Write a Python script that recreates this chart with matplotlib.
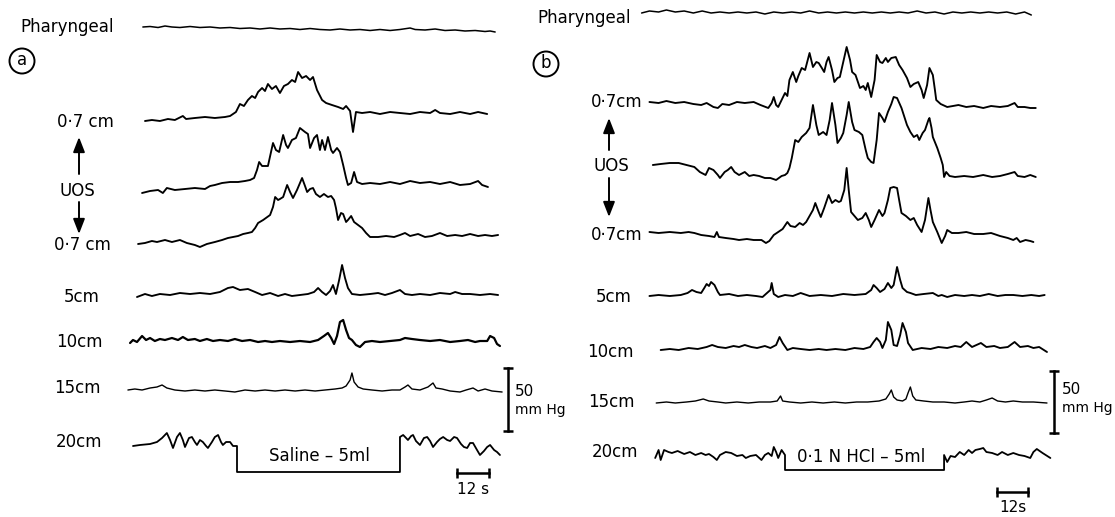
import numpy as np
import matplotlib
matplotlib.use("Agg")
import matplotlib.pyplot as plt
from matplotlib.patches import Circle

# ---------------- data: time (s, from start of infusion), pressure (mmHg above resting level)
# Panel (a) – saline
a_phar_t = [-35.3,-32.6,-29.6,-27.0,-24.4,-21.4,-17.6,-13.9,-10.1,-6.4,-2.6,1.1,4.9,8.6,12.4,16.1,19.9,23.6,27.4,31.1,
            34.9,38.6,42.4,46.1,49.9,53.6,57.4,61.1,64.9,66.8,70.5,74.3,78.0,81.8,85.5,89.3,93.0,94.9,96.8]
a_phar_p = [0,0.4,-0.4,0.8,0,-0.4,0.4,-0.4,0,-0.8,-0.4,-1.2,-0.8,-1.6,-0.8,-1.6,-1.2,-2.0,-1.2,-2.0,
            -2.4,-1.6,-2.4,-2.0,-2.8,-2.0,-2.8,-2.0,-0.8,-2.0,-2.4,-1.6,-2.8,-2.4,-3.2,-2.8,-3.6,-3.2,-4.0]

a_07up_t = [-34.5,-31.9,-28.9,-25.9,-23.3,-20.3,-19.1,-15.8,-12.0,-8.3,-4.5,-2.6,-0.4,1.1,2.6,4.1,5.6,6.8,7.9,9.4,
            10.5,11.6,13.1,14.6,16.1,17.6,19.1,20.6,21.8,22.9,24.4,25.9,27.4,28.5,30.0,31.9,33.4,35.6,37.9,39.8,
            40.9,42.4,43.5,44.6,46.9,49.9,53.6,57.4,61.1,64.9,68.6,72.4,74.3,76.1,79.9,83.6,87.4,90.4,93.8]
a_07up_p = [-0.8,0,-0.8,0.8,0,3.2,0.8,1.6,2.4,1.6,2.4,3.2,6.4,12.8,11.2,16,19.2,17.6,22.4,25.6,
            23.2,28.8,24.8,27.2,21.6,27.2,28.8,32,30.4,38.4,33.6,35.2,32,34.4,24,16,13.6,12,10.4,8.8,
            11.2,7.2,-9.6,6.4,5.6,6.4,4.8,6.4,5.6,4.8,6.4,5.6,8,5.6,4.8,6.4,4.8,6.4,4.8]

a_uos_t = [-35.6,-32.6,-29.6,-27.8,-26.3,-23.3,-19.5,-15.8,-12.0,-10.1,-8.3,-5.6,-2.6,0.4,3.0,4.9,6.4,7.5,8.3,9.4,
           11.6,13.5,14.6,15.8,17.3,18.4,19.1,20.6,22.1,23.6,25.5,26.6,27.4,28.9,30.0,31.1,31.9,33.0,34.1,35.3,
           36.0,37.5,38.6,39.8,40.9,41.6,42.8,43.9,45.0,46.9,49.9,53.6,57.4,61.1,64.9,68.6,72.4,76.1,79.9,83.6,
           87.4,90.4,91.9,94.1]
a_uos_p = [-0.8,0.8,1.6,-0.8,3.2,1.6,2.4,3.2,2.4,4.8,5.6,7.2,8,8,8.8,9.6,11.2,17.6,24,20.8,
           20.8,39.2,33.6,32,45.6,37.6,35.2,41.6,43.2,51.2,48,46.4,35.2,43.2,45.6,33.6,41.6,33.6,44,33.6,
           31.2,35.2,32,21.6,11.2,5.6,7.2,16,8,6.4,7.2,6.4,8,6.4,8.8,7.2,8,6.4,8,5.6,
           6.4,8.8,5.6,4]

a_07lo_t = [-37.1,-34.5,-31.9,-30.0,-27.0,-24.4,-21.4,-18.8,-15.8,-13.9,-11.3,-8.3,-5.6,-3.4,-1.5,0.4,2.3,4.1,5.6,6.8,
            7.9,9.8,12.4,13.5,14.3,15.4,16.1,17.3,18.8,19.9,21.0,22.5,24.4,25.5,26.3,27.4,28.5,29.6,31.1,32.6,
            34.1,35.3,36.4,37.1,37.9,39.0,39.8,40.9,41.6,42.8,43.9,45.4,46.9,48.4,49.9,52.9,55.9,58.9,61.1,63.0,
            64.9,67.9,70.5,73.1,76.1,78.8,81.8,84.4,87.4,90.4,93.0,95.6,97.9]
a_07lo_p = [0,0.8,2.4,1.6,3.2,1.6,3.2,0.8,-0.8,-2.4,0,1.6,3.2,4.8,5.6,6.4,8,8.8,9.6,12.8,
            16.8,19.2,23.2,29.6,37.6,35.2,36,37.6,47.2,41.6,36.8,43.2,52.8,46.4,41.6,44,44.8,40,37.6,40,
            37.6,38.4,35.2,28.8,19.2,24.8,24,17.6,19.2,22.4,17.6,15.2,12.8,8.8,5.6,5.6,6.4,5.6,7.2,8.8,
            6.4,8,5.6,6.4,8.8,6.4,7.2,6.4,8,6.4,7.2,6.4,7.2]

a_5cm_t = [-37.5,-34.5,-31.9,-28.9,-25.1,-21.4,-17.6,-13.9,-10.1,-6.4,-3.4,-1.5,1.1,4.1,6.8,9.4,12.4,15.4,18.0,20.6,
           23.6,26.6,28.9,30.4,31.9,33.4,34.9,36.0,37.1,38.3,39.4,40.5,41.6,43.1,46.1,49.9,52.9,55.5,58.1,61.1,
           63.0,65.6,68.6,72.4,76.1,79.9,81.8,84.4,87.4,91.1,94.9,97.9]
a_5cm_p = [-0.8,1.6,0,1.6,0.8,2.4,1.6,2.4,1.6,3.2,6.4,7.2,4.8,5.6,3.2,0.8,2.4,0,1.6,0,
           0.8,1.6,3.2,6.4,3.2,0.8,4,8.8,1.6,12.8,24.8,14.4,6.4,1.6,0.8,1.6,2.4,0.8,2.4,4.8,
           1.6,0.8,1.6,0.8,2.4,1.6,3.2,1.6,1.6,0.8,1.6,0.8]

a_10cm_t = [-40.1,-39.0,-37.5,-35.6,-34.1,-32.6,-30.8,-28.9,-27.0,-24.4,-22.1,-20.3,-18.4,-15.8,-13.9,-11.3,-9.0,-6.4,-3.4,-0.8,
            1.9,4.9,7.9,10.5,13.1,16.1,19.9,23.6,27.4,30.4,32.6,34.1,35.3,36.4,37.5,38.6,39.8,40.9,42.0,43.1,
            44.6,46.1,48.0,50.6,53.6,57.4,61.1,63.0,65.6,68.6,72.4,76.1,79.9,83.6,86.6,89.3,91.1,93.8,94.9,96.4,
            97.5,98.6]
a_10cm_p = [-0.8,1.6,0,4.8,1.6,3.2,0.8,2.4,1.6,3.2,1.6,4,1.6,2.4,0.8,2.4,0.8,1.6,0.8,2.4,
            0.8,1.6,0,0.8,0,0.8,0,0.8,0,1.6,4.8,7.2,3.2,-1.6,4.8,16,17.6,9.6,3.2,1.6,
            -2.4,-4,0,0.8,0,0.8,1.6,3.2,2.4,1.6,0.8,1.6,0,0.8,1.6,0,0.8,0.8,4.8,3.2,
            -1.6,-3.2]

a_15cm_t = [-40.9,-38.3,-35.6,-32.6,-30.0,-28.1,-26.3,-23.3,-19.5,-15.8,-12.0,-8.3,-4.5,-0.8,3.0,6.8,10.5,14.3,18.0,21.8,
            25.5,29.3,33.0,36.8,39.4,40.9,42.4,43.1,43.9,45.4,47.3,50.6,54.4,58.1,61.1,63.0,64.1,65.6,68.6,71.6,
            73.5,74.6,76.9,79.9,83.6,85.9,88.5,90.4,93.0,95.6,99.4]
a_15cm_p = [0,0.8,0,1.6,2.4,4,1.6,0,-0.8,0,-0.8,0,-0.8,-1.6,0,-0.8,0,-0.8,0,-0.8,
            0,-0.8,0,0.8,1.6,3.2,8,13.6,6.4,2.4,0.8,0,-0.8,0,0,2.4,4,0.8,0,2.4,
            5.6,1.6,0.8,-0.8,-1.6,0,1.6,-0.8,0.8,-0.8,-1.6]

# 20 cm channel also carries the infusion marker (pen deflection while infusing)
a_20cm_t = [-39.0,-36.4,-32.6,-30.0,-28.1,-26.3,-25.1,-24.0,-22.5,-21.4,-20.3,-19.5,-18.0,-16.9,-15.8,-15.0,-13.9,-12.8,-11.6,-10.9,
            -9.4,-8.3,-7.1,-6.0,-5.3,-4.1,-2.6,-1.5,0.0,0.0,61.1,61.1,62.3,63.4,64.1,65.3,66.0,67.1,68.6,70.1,
            71.3,72.4,73.5,75.0,76.1,77.3,78.8,79.9,81.4,82.5,84.0,85.1,86.3,87.4,88.5,90.0,91.1,92.6,93.8,94.9,
            96.4,97.5,98.6]
a_20cm_p = [0,0.8,1.6,3.2,6.4,10.4,4.8,-1.6,7.2,10.4,4.8,-0.8,6.4,7.2,3.2,0.8,4.8,3.2,0,-1.6,
            3.2,7.2,8.8,3.2,0.8,3.2,3.2,0,0,-20.8,-20.8,7.2,8.8,6.4,4.8,8,8.8,4,0.8,6.4,
            7.2,4,-0.8,3.2,5.6,7.2,4.8,4,7.2,6.4,1.6,-0.8,-1.6,2.4,2.4,-3.2,-7.2,-4,-0.8,0.8,
            -3.2,-4.8,-7.2]

# Panel (b) – 0.1 N HCl
b_phar_t = [-54.9,-51.9,-48.4,-45.4,-42.0,-38.6,-35.1,-31.7,-28.3,-24.9,-21.4,-18.0,-14.6,-11.1,-7.7,-4.3,-0.9,2.6,6.0,9.4,
            12.9,16.3,19.7,23.1,26.6,30.0,33.4,36.9,40.3,43.7,47.1,50.6,54.0,57.4,60.9,64.3,67.7,71.1,74.6,78.0,
            81.4,84.9,88.3,91.7,94.3]
b_phar_p = [-0.8,0.8,0,1.6,0,0.8,-0.8,0.8,-0.8,0,-0.8,0,-0.8,0,-1.6,0,-0.8,0,-0.8,0.8,
            -0.8,0,-0.8,0,-0.8,0,-0.8,0,-0.8,0,-0.8,0.8,-0.8,0,-1.6,0,-0.8,0,-0.8,0,
            -0.8,0,-1.6,0,-2.4]

b_07up_t = [-51.9,-48.4,-45.4,-42.0,-38.6,-35.1,-32.1,-30.0,-27.4,-25.7,-24.0,-21.4,-18.4,-15.4,-12.0,-9.4,-6.4,-5.1,-4.3,-3.4,
            -2.6,-1.3,0.0,0.9,1.7,3.0,4.3,5.1,6.4,7.7,9.4,10.7,12.0,12.9,14.1,15.0,15.9,16.7,18.0,18.9,
            20.1,21.0,22.3,23.6,24.9,25.7,27.0,28.7,30.0,30.9,31.7,33.0,34.3,35.1,36.4,37.3,38.6,39.4,40.7,42.4,
            43.7,45.0,46.7,48.0,49.3,51.0,52.3,53.1,54.4,55.3,56.6,57.4,57.9,59.6,62.1,64.3,66.4,69.4,72.4,75.9,
            78.9,82.3,85.3,87.9,89.1,91.7,93.9,96.0]
b_07up_p = [0,-0.8,0.8,-0.8,0,-1.6,-2.4,-0.8,-4,-4.8,-1.6,-2.4,0,-0.8,0,-2.4,-4.8,-0.8,4,-2.4,
            -4,1.6,7.2,4.8,17.6,24,16,20.8,27.2,25.6,39.2,28,32,31.2,27.2,24,32,36,25.6,16,
            19.2,20,32,44,33.6,24,21.6,11.2,12.8,9.6,15.2,4,17.6,37.6,32,31.2,35.2,32,35.2,36,
            29.6,25.6,19.2,12,14.4,16,9.6,3.2,13.6,27.2,21.6,9.6,1.6,-1.6,-4,-3.2,-2.4,-4,-3.2,-4.8,
            -3.2,-4,-3.2,-0.8,-4,-4,-4.8,-4.8]

b_uos_t = [-50.6,-47.6,-44.1,-40.7,-37.7,-34.7,-32.6,-30.4,-29.1,-27.4,-25.7,-24.9,-23.1,-21.9,-20.6,-19.3,-17.6,-15.4,-13.7,-12.0,
           -9.9,-7.7,-5.6,-3.4,-1.3,0.0,0.9,1.7,2.6,3.9,5.1,6.4,8.1,9.4,10.7,12.0,12.9,14.6,15.9,17.1,
           18.0,19.3,20.1,21.4,22.3,23.6,24.4,25.7,26.6,28.3,29.6,30.9,31.7,33.0,33.9,35.1,36.0,37.3,38.1,39.4,
           40.7,41.6,42.9,44.6,46.7,48.0,49.3,50.6,51.4,52.7,53.6,54.9,55.3,56.1,56.6,58.3,59.6,60.4,60.9,61.7,
           63.0,65.1,68.6,72.0,75.9,79.3,82.3,85.3,87.9,89.1,91.7,93.9,96.0]
b_uos_p = [0,0.8,1.6,1.6,0,-1.6,-5.6,-8,-2.4,-4,-8,-10.4,-5.6,-4,-1.6,-5.6,-8,-5.6,-8.8,-8,
           -8.8,-10.4,-10.4,-12,-8.8,-8,-6.4,-2.4,5.6,20,18.4,22.4,25.6,29.6,48,32,24,26.4,24,36,
           49.6,32,17.6,21.6,25.6,40,50.4,34.4,28,26.4,24,12,5.6,2.4,1.6,20,41.6,37.6,34.4,42.4,
           48.8,54.4,53.6,45.6,32,26.4,22.4,24,20,25.6,28,36,37.6,29.6,22.4,13.6,5.6,0,-9.6,-5.6,
           -8.8,-9.6,-8.8,-9.6,-8,-9.6,-8.8,-7.2,-5.6,-8.8,-9.6,-8,-9.6]

b_07lo_t = [-51.9,-48.4,-44.1,-39.9,-36.9,-34.7,-32.1,-29.1,-27.0,-26.1,-25.3,-22.7,-19.7,-17.6,-14.6,-12.0,-9.0,-7.3,-6.0,-4.3,
            -2.6,-0.9,0.9,2.1,3.9,5.6,6.9,8.1,9.4,10.7,11.6,12.9,13.7,15.0,16.7,18.0,19.3,20.6,21.4,22.7,
            23.6,24.4,25.3,26.6,27.9,29.6,30.9,32.1,33.0,34.3,36.0,37.3,38.1,39.4,40.3,41.6,42.9,43.7,44.6,46.3,
            48.0,49.3,50.6,52.3,53.6,54.9,55.7,56.6,58.3,60.0,61.3,62.1,63.9,66.4,69.4,72.4,75.9,78.9,82.3,85.3,
            87.4,88.7,90.0,92.1,93.9,95.1]
b_07lo_p = [0,-0.8,0,-0.8,0,-0.8,-2.4,-3.2,-4,0,-4,-4.8,-5.6,-6.4,-5.6,-6.4,-6.4,-8.8,-7.2,-2.4,
            0,2.4,8,4.8,4,7.2,5.6,8,12.8,17.6,23.2,16,12,19.2,29.6,23.2,25.6,24,24.8,33.6,
            51.2,33.6,16,12.8,9.6,11.2,15.2,9.6,4,9.6,17.6,12.8,15.2,25.6,35.2,36,35.2,25.6,15.2,12.8,
            9.6,11.2,5.6,0,9.6,27.2,17.6,8,0,-8.8,-3.2,1.6,-0.8,-0.8,0,-1.6,-1.6,-0.8,-3.2,-4.8,
            -6.4,-4.8,-8,-6.4,-7.2,-8]

b_5cm_t = [-51.9,-48.4,-44.1,-39.9,-37.3,-35.6,-33.9,-32.1,-30.9,-30.0,-29.1,-28.3,-27.0,-25.7,-24.9,-21.4,-18.0,-14.6,-11.1,-8.6,
           -6.9,-5.6,-5.1,-4.3,-2.6,0.0,3.0,6.0,9.4,13.7,18.0,22.3,26.6,30.9,33.0,33.9,35.1,36.4,38.1,39.4,
           40.7,41.6,42.9,44.1,45.0,46.7,48.0,50.1,53.1,56.6,58.7,60.0,62.1,65.1,68.6,71.6,74.6,78.0,81.4,84.4,
           87.4,90.9,94.3,97.3,99.4]
b_5cm_p = [0,0.8,0,0.8,2.4,4.8,3.2,2.4,6.4,9.6,8,11.2,8.8,3.2,0.8,1.6,0,0.8,0,-0.8,
           2.4,4.8,10.4,1.6,-0.8,0.8,0,2.4,0,0.8,0,1.6,0.8,1.6,4.8,8.8,6.4,3.2,5.6,10.4,
           6.4,8.8,23.2,12.8,6.4,3.2,2.4,0.8,1.6,2.4,0,0.8,-0.8,0.8,0,0.8,0,1.6,0,0.8,
           0.8,0,0.8,0,0.8]

b_10cm_t = [-47.6,-44.1,-40.7,-36.9,-33.4,-30.0,-27.9,-25.7,-22.7,-19.7,-17.6,-15.4,-12.9,-10.7,-7.7,-5.6,-3.4,-2.1,-0.9,0.9,
            3.0,6.0,9.4,12.9,15.9,19.3,23.1,26.6,30.0,32.6,33.9,35.1,36.4,37.3,38.6,39.4,40.7,41.6,42.9,44.1,
            45.0,46.3,47.1,48.9,52.3,55.7,58.7,62.1,65.1,67.3,69.4,71.6,75.0,77.1,80.1,82.3,85.3,87.9,90.0,93.0,
            95.1,97.3,100.3]
b_10cm_p = [0,0.8,0,1.6,0.8,2.4,4,2.4,1.6,3.2,2.4,4,2.4,1.6,3.2,1.6,4,10.4,5.6,0,
            1.6,0.8,0,0.8,0,0.8,0,1.6,0.8,2.4,6.4,9.6,6.4,1.6,8,22.4,16,4,3.2,12,
            21.6,14.4,5.6,0,1.6,0.8,2.4,1.6,3.2,2.4,6.4,2.4,5.6,2.4,3.2,1.6,2.4,6.4,2.4,3.2,
            1.6,2.4,-1.6]

b_15cm_t = [-49.3,-45.4,-42.0,-37.7,-34.3,-31.3,-29.1,-25.7,-22.7,-18.4,-14.1,-9.9,-5.6,-3.0,-1.7,-0.9,1.7,6.0,10.3,14.6,
            18.9,23.1,27.4,31.7,36.0,38.6,39.9,40.7,41.6,42.9,45.0,46.3,47.1,48.0,48.9,50.1,53.1,56.6,60.9,65.1,
            68.6,71.6,74.6,77.1,79.3,81.4,84.4,87.4,90.9,95.1,100.3]
b_15cm_p = [0,0.8,0,0.8,1.6,3.2,1.6,0.8,0,0.8,0,0.8,0.8,1.6,5.6,1.6,0.8,0,0.8,0,
            0.8,0,0.8,0.8,1.6,3.2,7.2,10.4,4.8,2.4,1.6,3.2,8,12.8,5.6,2.4,1.6,0.8,0.8,0,
            0.8,1.6,0.8,2.4,4,1.6,0.8,1.6,0.8,0.8,0]

b_20cm_t = [-49.7,-48.4,-47.6,-46.3,-44.6,-43.3,-41.1,-38.6,-36.4,-34.3,-32.1,-30.4,-29.1,-27.4,-26.1,-24.9,-22.7,-20.6,-18.4,-16.3,
            -15.0,-13.3,-11.1,-9.0,-7.7,-6.4,-5.1,-4.3,-3.4,-2.6,-1.3,0.0,0.0,60.9,60.9,62.1,63.4,65.1,66.9,68.6,
            70.3,71.6,72.9,74.6,75.9,77.1,79.3,81.4,83.1,85.3,87.4,89.6,91.7,93.9,95.1,96.4,98.6,101.6]
b_20cm_p = [-2.4,4,-4,4,2.4,1.6,3.2,0.8,2.4,0,1.6,0,0.8,-1.6,-4,0,2.4,1.6,-0.8,0,
            -2.4,-0.8,0,-4,0,1.6,-0.8,6.4,2.4,-2.4,4,0,-12,-12,0,-5.6,-0.8,-1.6,2.4,0,
            4,1.6,4,4.8,5.6,2.4,1.6,0,2.4,0,1.6,0,-0.8,-2.4,2.4,4.8,1.6,-2.4]

channel_labels_a = ["Pharyngeal", "0·7 cm", "UOS", "0·7 cm", "5cm", "10cm", "15cm", "20cm"]
channel_labels_b = ["Pharyngeal", "0·7cm", "UOS", "0·7cm", "5cm", "10cm", "15cm", "20cm"]
infusion_a = "Saline – 5ml"
infusion_b = "0·1 N HCl – 5ml"
scale_mmhg = 50
scale_s = 12

# ---------------- layout (pixels of the 1115 x 517 canvas)
W, H = 1115, 517
PXM = 1.25                        # px per mmHg
fig = plt.figure(figsize=(W / 100, H / 100), dpi=100)
fig.patch.set_facecolor("white")

FONT = "DejaVu Sans"
plt.rcParams["font.family"] = [FONT]


def panel_axes(x0, pxs):
    ax = fig.add_axes([0, 0, 1, 1])
    ax.set_xlim(-x0 / pxs, (W - x0) / pxs)
    ax.set_ylim(0, H / PXM)
    ax.axis("off")
    ax.patch.set_alpha(0)
    return ax


def ydat(px):
    return (H - px) / PXM


def trace(ax, t, p, base_px, lw=1.35):
    ax.plot(t, np.asarray(p, float) + ydat(base_px), color="k", lw=lw,
            solid_joinstyle="round", solid_capstyle="round", clip_on=False)


# overlay axes for text in pixel coordinates
ov = fig.add_axes([0, 0, 1, 1])
ov.set_xlim(0, W)
ov.set_ylim(H, 0)
ov.axis("off")
ov.patch.set_alpha(0)

# ---------- panel a
A_X0, A_PXS = 237, 2.667
axa = panel_axes(A_X0, A_PXS)
a_traces = [(a_phar_t, a_phar_p, 27, 1.1), (a_07up_t, a_07up_p, 120, 1.35), (a_uos_t, a_uos_p, 192, 1.35),
            (a_07lo_t, a_07lo_p, 244, 1.35), (a_5cm_t, a_5cm_p, 296, 1.35), (a_10cm_t, a_10cm_p, 342, 1.6),
            (a_15cm_t, a_15cm_p, 390, 1.0), (a_20cm_t, a_20cm_p, 446, 1.3)]
for t, p, b, lw in a_traces:
    trace(axa, t, p, b, lw)

# ---------- panel b
B_X0, B_PXS = 785, 2.612
axb = panel_axes(B_X0, B_PXS)
b_traces = [(b_phar_t, b_phar_p, 12, 1.1), (b_07up_t, b_07up_p, 102, 1.35), (b_uos_t, b_uos_p, 165, 1.35),
            (b_07lo_t, b_07lo_p, 232, 1.35), (b_5cm_t, b_5cm_p, 296, 1.35), (b_10cm_t, b_10cm_p, 350, 1.35),
            (b_15cm_t, b_15cm_p, 403, 1.0), (b_20cm_t, b_20cm_p, 455, 1.3)]
for t, p, b, lw in b_traces:
    trace(axb, t, p, b, lw)

# ---------- scale bars (drawn in data units)
def pressure_bar(ax, x0, pxs, x_px, bottom_px):
    tb = (x_px - x0) / pxs
    y0 = ydat(bottom_px)
    ax.plot([tb, tb], [y0, y0 + scale_mmhg], color="k", lw=1.8, clip_on=False)
    ax.plot([tb, tb], [y0, y0 + scale_mmhg], ls="none", marker="_", ms=7, mew=1.8, color="k", clip_on=False)


def time_bar(ax, x0, pxs, x_px, y_px):
    ts = (x_px - x0) / pxs
    y = ydat(y_px)
    ax.plot([ts, ts + scale_s], [y, y], color="k", lw=1.8, clip_on=False)
    ax.plot([ts, ts + scale_s], [y, y], ls="none", marker="|", ms=7, mew=1.8, color="k", clip_on=False)


pressure_bar(axa, A_X0, A_PXS, 508, 430.5)
pressure_bar(axb, B_X0, B_PXS, 1054, 433)
time_bar(axa, A_X0, A_PXS, 457, 473)
time_bar(axb, B_X0, B_PXS, 997, 492)

# ---------- texts
LS = 12
a_label_pos = [(67, 27), (85, 122), (77, 191), (82, 245), (82, 297), (79, 342), (77, 388), (79, 442)]
b_label_pos = [(584, 18), (617, 102), (611, 166), (617, 235), (614, 297), (610, 352), (611, 402), (615, 452)]
for lab, (x, y) in zip(channel_labels_a, a_label_pos):
    ov.text(x, y, lab, ha="center", va="center", fontsize=LS, color="k")
for lab, (x, y) in zip(channel_labels_b, b_label_pos):
    ov.text(x, y, lab, ha="center", va="center", fontsize=LS, color="k")

ov.text(319, 456, infusion_a, ha="center", va="center", fontsize=LS)
ov.text(861, 457, infusion_b, ha="center", va="center", fontsize=LS)

ov.text(515, 391, f"{scale_mmhg}", ha="left", va="center", fontsize=11)
ov.text(515, 410, "mm Hg", ha="left", va="center", fontsize=10)
ov.text(1062, 389, f"{scale_mmhg}", ha="left", va="center", fontsize=11)
ov.text(1062, 408, "mm Hg", ha="left", va="center", fontsize=10)
ov.text(473, 490, f"{scale_s} s", ha="center", va="center", fontsize=11)
ov.text(1013, 507, f"{scale_s}s", ha="center", va="center", fontsize=11)

# panel letters
for (cx, cy), letter in [((22, 61), "a"), ((546, 64), "b")]:
    ov.add_patch(Circle((cx, cy), 12.5, fill=False, lw=1.4, ec="k"))
    ov.text(cx, cy - 1, letter, ha="center", va="center", fontsize=12)

# arrows
arrow_kw = dict(arrowstyle="-|>,head_length=0.9,head_width=0.35", color="k", lw=1.4,
                shrinkA=0, shrinkB=0, mutation_scale=10)
for x, tail, tip in [(79, 174, 137), (79, 202, 234), (609, 150, 118), (609, 178, 217)]:
    ov.annotate("", xy=(x, tip), xytext=(x, tail), arrowprops=arrow_kw)

fig.savefig("out.png", dpi=100, facecolor="white")
